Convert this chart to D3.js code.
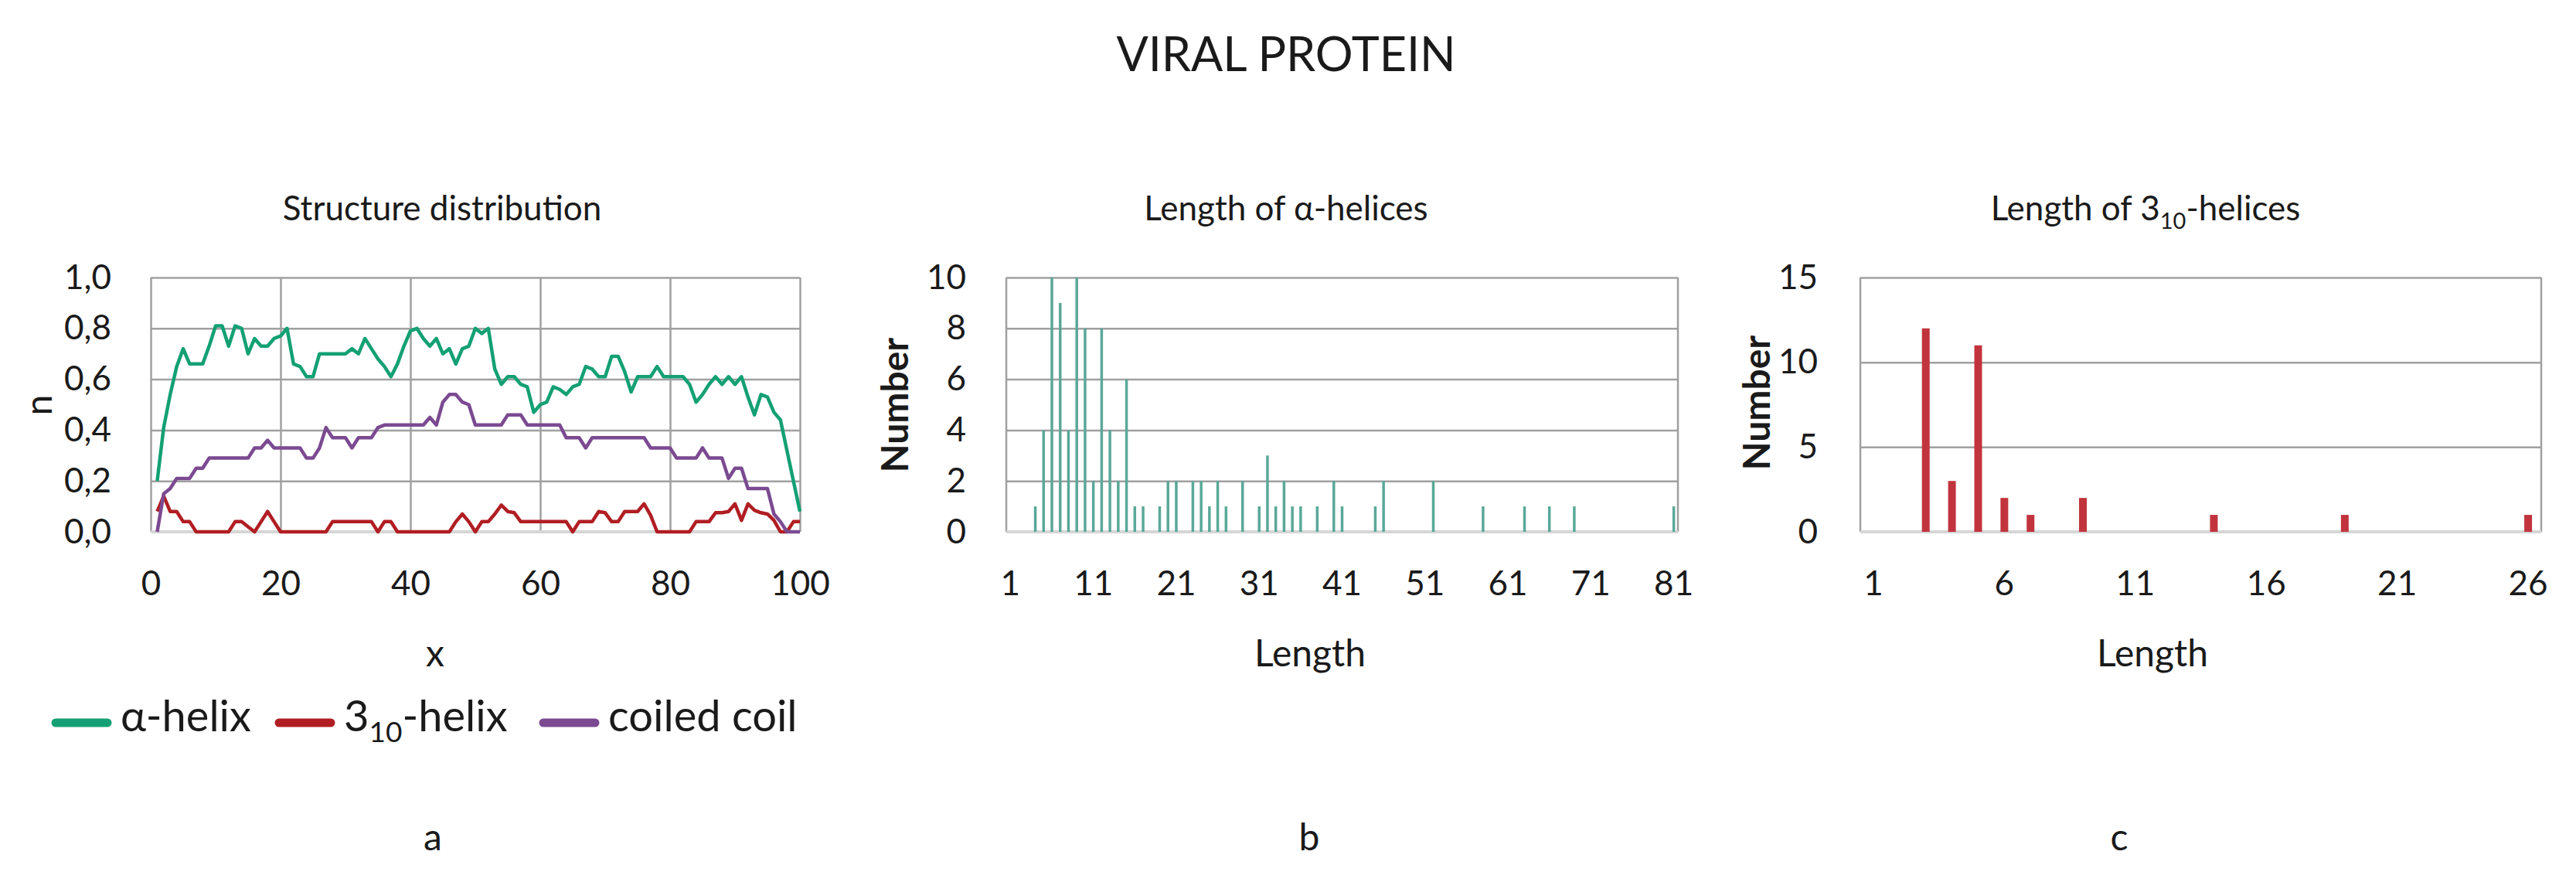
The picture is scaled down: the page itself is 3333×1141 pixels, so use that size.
<!DOCTYPE html>
<html>
<head>
<meta charset="utf-8">
<script src="https://d3js.org/d3.v7.min.js"></script>
<style>
body { margin: 0; background: #fff; }
svg text { font-family: Lato, "Open Sans", sans-serif; }
</style>
</head>
<body>
<svg width="3333" height="1141"></svg>
<script>
// ---- data ----
// panel a: position along the protein (%) and fraction of structure
var positions = d3.range(1, 101);
var alphaHelix = [0.20,0.41,0.54,0.65,0.72,0.66,0.66,0.66,0.73,0.81,
                  0.81,0.73,0.81,0.80,0.70,0.76,0.73,0.73,0.76,0.77,
                  0.80,0.66,0.65,0.61,0.61,0.70,0.70,0.70,0.70,0.70,
                  0.72,0.70,0.76,0.72,0.68,0.65,0.61,0.66,0.73,0.79,
                  0.80,0.76,0.73,0.76,0.70,0.72,0.66,0.72,0.73,0.80,
                  0.78,0.80,0.64,0.58,0.61,0.61,0.58,0.57,0.47,0.50,
                  0.51,0.57,0.56,0.54,0.57,0.58,0.65,0.64,0.61,0.61,
                  0.69,0.69,0.63,0.55,0.61,0.61,0.61,0.65,0.61,0.61,
                  0.61,0.61,0.58,0.51,0.54,0.58,0.61,0.58,0.61,0.58,
                  0.61,0.53,0.46,0.54,0.53,0.47,0.44,0.32,0.20,0.08];
var helix310 = [0.08,0.14,0.08,0.08,0.04,0.04,0.00,0.00,0.00,0.00,
                0.00,0.00,0.04,0.04,0.02,0.00,0.04,0.08,0.04,0.00,
                0.00,0.00,0.00,0.00,0.00,0.00,0.00,0.04,0.04,0.04,
                0.04,0.04,0.04,0.04,0.00,0.04,0.04,0.00,0.00,0.00,
                0.00,0.00,0.00,0.00,0.00,0.00,0.04,0.07,0.04,0.00,
                0.04,0.04,0.07,0.105,0.08,0.075,0.04,0.04,0.04,0.04,
                0.04,0.04,0.04,0.04,0.00,0.04,0.04,0.04,0.08,0.075,
                0.04,0.04,0.08,0.08,0.08,0.11,0.065,0.00,0.00,0.00,
                0.00,0.00,0.00,0.04,0.04,0.04,0.075,0.075,0.08,0.11,
                0.045,0.11,0.085,0.075,0.07,0.045,0.00,0.00,0.04,0.04];
var coiledCoil = [0.00,0.15,0.17,0.21,0.21,0.21,0.25,0.25,0.29,0.29,
                  0.29,0.29,0.29,0.29,0.29,0.33,0.33,0.36,0.33,0.33,
                  0.33,0.33,0.33,0.29,0.29,0.33,0.41,0.37,0.37,0.37,
                  0.33,0.37,0.37,0.37,0.41,0.42,0.42,0.42,0.42,0.42,
                  0.42,0.42,0.45,0.42,0.51,0.54,0.54,0.51,0.50,0.42,
                  0.42,0.42,0.42,0.42,0.46,0.46,0.46,0.42,0.42,0.42,
                  0.42,0.42,0.42,0.37,0.37,0.37,0.33,0.37,0.37,0.37,
                  0.37,0.37,0.37,0.37,0.37,0.37,0.33,0.33,0.33,0.33,
                  0.29,0.29,0.29,0.29,0.33,0.29,0.29,0.29,0.21,0.25,
                  0.25,0.17,0.17,0.17,0.17,0.07,0.04,0.00,0.00,0.00];
var nTicks = [0, 0.2, 0.4, 0.6, 0.8, 1.0];
var xTicksA = [0, 20, 40, 60, 80, 100];

// panel b: length of alpha-helices
var alphaLengthCats = d3.range(1, 82);
var alphaLen   = [4,5,6,7,8,9,10,11,12,13,14,15,16,17,19,20,21,23,24,25,26,27,29,31,32,33,34,35,36,38,40,41,45,46,52,58,63,66,69,81];
var alphaCount = [1,4,10,9,4,10,8,2,8,4,2,6,1,1,1,2,2,2,2,1,2,1,2,1,3,1,2,1,1,1,2,1,1,2,2,1,1,1,1,1];
var alphaYTicks = [0, 2, 4, 6, 8, 10];
var alphaXTicks = [1, 11, 21, 31, 41, 51, 61, 71, 81];

// panel c: length of 3-10 helices
var h310LengthCats = d3.range(1, 27);
var h310Len   = [3, 4, 5, 6, 7, 9, 14, 19, 26];
var h310Count = [12, 3, 11, 2, 1, 2, 1, 1, 1];
var h310YTicks = [0, 5, 10, 15];
var h310XTicks = [1, 6, 11, 16, 21, 26];

// ---- drawing ----
var svg = d3.select("svg");
var fontSize = 44;
var textColor = "#1a1a1a";
var gridColor = "#a0a0a0";
var baseColor = "#d6d6d6";
var top0 = 359, bottom0 = 688;
var green = "#14a074", red = "#b01e23", purple = "#7b4a91";
var barGreen = "#5aa898", barRed = "#c1343e";

var comma = d3.formatLocale({decimal: ",", thousands: ".", grouping: [3], currency: ["", ""]}).format(".1f");

function styleAxis(g) {
  g.select(".domain").remove();
  g.attr("font-size", fontSize).attr("font-family", "Lato, 'Open Sans', sans-serif").attr("color", textColor);
}

function hGrid(y, x0, x1, ticks) {
  svg.append("g").attr("transform", "translate(" + x0 + ",0)")
    .call(d3.axisLeft(y).tickValues(ticks.slice(1)).tickSize(-(x1 - x0)).tickFormat(""))
    .call(g => g.select(".domain").remove())
    .selectAll("line").attr("stroke", gridColor).attr("stroke-width", 2.5);
}

function frameSides(x0, x1) {
  [x0, x1].forEach(function(xx) {
    svg.append("line").attr("x1", xx).attr("x2", xx).attr("y1", top0).attr("y2", bottom0)
      .attr("stroke", gridColor).attr("stroke-width", 2.5);
  });
}

function baseLine(x0, x1) {
  svg.append("line").attr("x1", x0).attr("x2", x1).attr("y1", bottom0).attr("y2", bottom0)
    .attr("stroke", baseColor).attr("stroke-width", 4);
}

function addText(x, y, str, opts) {
  opts = opts || {};
  var size = opts.size || fontSize;
  var t = svg.append("text").attr("x", x).attr("y", y)
    .attr("text-anchor", opts.anchor || "middle")
    .attr("font-size", size)
    .attr("font-weight", opts.weight || "normal")
    .attr("fill", textColor);
  if (opts.rotate) t.attr("transform", "rotate(-90," + x + "," + y + ")");
  if (Array.isArray(str)) {
    // [normal, subscript, normal]
    var shift = Math.round(size * 0.25);
    t.append("tspan").text(str[0]);
    t.append("tspan").attr("font-size", Math.round(size * 0.66)).attr("dy", shift).text(str[1]);
    t.append("tspan").attr("dy", -shift).text(str[2]);
  } else {
    t.text(str);
  }
  return t;
}

// main title
addText(1664, 92, "VIRAL PROTEIN", {size: 61});

// ===== panel a =====
var xa = d3.scaleLinear().domain([0, 100]).range([195, 1035]);
var ya = d3.scaleLinear().domain([0, 1]).range([bottom0, top0]);

hGrid(ya, 195, 1035, nTicks);
svg.append("g").attr("transform", "translate(0," + bottom0 + ")")
  .call(d3.axisBottom(xa).tickValues(xTicksA).tickSize(-(bottom0 - top0)).tickFormat(""))
  .call(g => g.select(".domain").remove())
  .selectAll("line").attr("stroke", gridColor).attr("stroke-width", 2.5);
baseLine(195, 1035);

svg.append("g").attr("transform", "translate(195,0)")
  .call(d3.axisLeft(ya).tickValues(nTicks).tickSize(0).tickPadding(51).tickFormat(comma))
  .call(styleAxis);
svg.append("g").attr("transform", "translate(0," + bottom0 + ")")
  .call(d3.axisBottom(xa).tickValues(xTicksA).tickSize(0).tickPadding(51))
  .call(styleAxis);

var line = d3.line().x(function(d, i) { return xa(positions[i]); }).y(function(d) { return ya(d); });
[[helix310, red], [coiledCoil, purple], [alphaHelix, green]].forEach(function(s) {
  svg.append("path").datum(s[0]).attr("d", line)
    .attr("fill", "none").attr("stroke", s[1]).attr("stroke-width", 4.5)
    .attr("stroke-linejoin", "round");
});

addText(572, 285, "Structure distribution");
addText(67, 524, "n", {rotate: true, size: 48});
addText(563, 862, "x", {size: 48});

// legend
var legendItems = [
  {label: "α-helix", color: green, x: 67},
  {label: ["3", "10", "-helix"], color: red, x: 356},
  {label: "coiled coil", color: purple, x: 698}
];
legendItems.forEach(function(d) {
  svg.append("line").attr("x1", d.x + 5).attr("x2", d.x + 72).attr("y1", 935).attr("y2", 935)
    .attr("stroke", d.color).attr("stroke-width", 11).attr("stroke-linecap", "round");
  addText(d.x + 89, 946, d.label, {anchor: "start", size: 56});
});

addText(560, 1100, "a", {size: 48});

// ===== panel b =====
var xb = d3.scaleBand().domain(alphaLengthCats).range([1302, 2171]);
var yb = d3.scaleLinear().domain([0, 10]).range([bottom0, top0]);

hGrid(yb, 1302, 2171, alphaYTicks);
frameSides(1302, 2171);
baseLine(1302, 2171);

svg.append("g").attr("transform", "translate(1302,0)")
  .call(d3.axisLeft(yb).tickValues(alphaYTicks).tickSize(0).tickPadding(52))
  .call(styleAxis);
svg.append("g").attr("transform", "translate(0," + bottom0 + ")")
  .call(d3.axisBottom(xb).tickValues(alphaXTicks).tickSize(0).tickPadding(51))
  .call(styleAxis);

svg.append("g").selectAll("rect")
  .data(alphaLen)
  .enter()
  .append("rect")
  .attr("x", function(d) { return xb(d) + xb.bandwidth() / 2 - 1.75; })
  .attr("width", 3.5)
  .attr("y", function(d, i) { return yb(alphaCount[i]); })
  .attr("height", function(d, i) { return bottom0 - yb(alphaCount[i]); })
  .attr("fill", barGreen);

addText(1664, 285, "Length of α-helices");
addText(1175, 524, "Number", {rotate: true, weight: "bold", size: 48});
addText(1695, 862, "Length", {size: 48});
addText(1694, 1100, "b", {size: 48});

// ===== panel c =====
var xc = d3.scaleBand().domain(h310LengthCats).range([2407, 3288]);
var yc = d3.scaleLinear().domain([0, 15]).range([bottom0, top0]);

hGrid(yc, 2407, 3288, h310YTicks);
frameSides(2407, 3288);
baseLine(2407, 3288);

svg.append("g").attr("transform", "translate(2407,0)")
  .call(d3.axisLeft(yc).tickValues(h310YTicks).tickSize(0).tickPadding(55))
  .call(styleAxis);
svg.append("g").attr("transform", "translate(0," + bottom0 + ")")
  .call(d3.axisBottom(xc).tickValues(h310XTicks).tickSize(0).tickPadding(51))
  .call(styleAxis);

svg.append("g").selectAll("rect")
  .data(h310Len)
  .enter()
  .append("rect")
  .attr("x", function(d) { return xc(d) + xc.bandwidth() / 2 - 5; })
  .attr("width", 10)
  .attr("y", function(d, i) { return yc(h310Count[i]); })
  .attr("height", function(d, i) { return bottom0 - yc(h310Count[i]); })
  .attr("fill", barRed);

addText(2776, 285, ["Length of 3", "10", "-helices"]);
addText(2290, 521, "Number", {rotate: true, weight: "bold", size: 48});
addText(2785, 862, "Length", {size: 48});
addText(2742, 1100, "c", {size: 48});
</script>
</body>
</html>
